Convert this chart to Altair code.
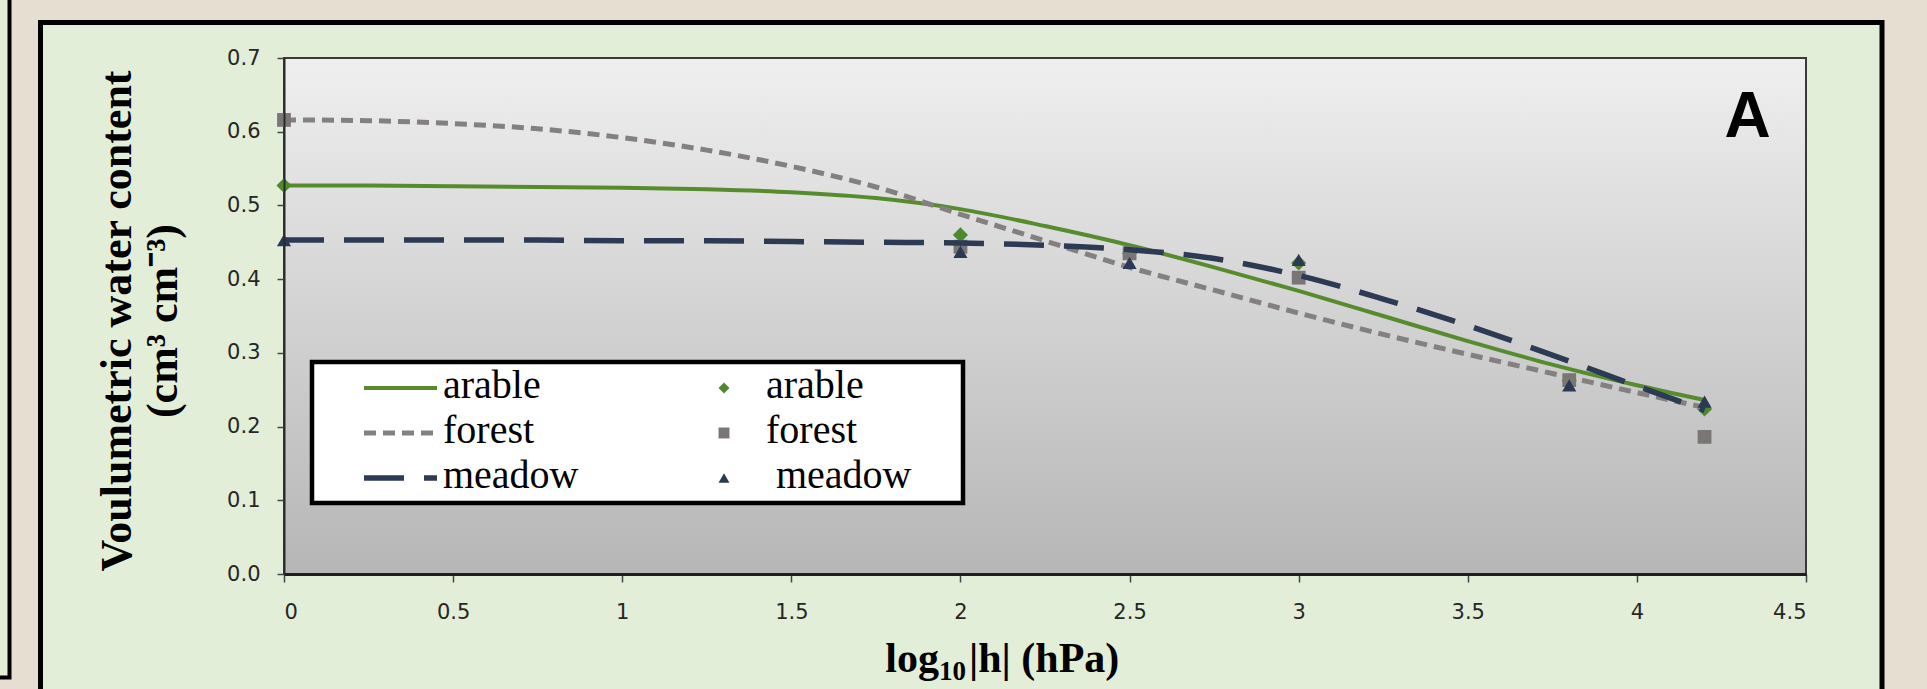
import altair as alt
import pandas as pd

# ---------------- data ----------------
series = ["arable", "forest", "meadow"]

x_fit = [0, 0.25, 0.5, 0.75, 1.0, 1.25, 1.5, 1.75, 2.0, 2.25, 2.5, 2.75, 3.0, 3.25, 3.5, 3.75, 4.0, 4.2]
arable_fit = [0.527, 0.527, 0.526, 0.525, 0.524, 0.522, 0.518, 0.510, 0.495, 0.472, 0.446, 0.416, 0.384, 0.350, 0.316, 0.284, 0.256, 0.236]
forest_fit = [0.616, 0.615, 0.611, 0.604, 0.592, 0.575, 0.553, 0.525, 0.488, 0.452, 0.416, 0.385, 0.354, 0.325, 0.298, 0.272, 0.246, 0.226]
meadow_fit = [0.453, 0.453, 0.453, 0.453, 0.452, 0.452, 0.451, 0.450, 0.449, 0.446, 0.440, 0.428, 0.405, 0.373, 0.337, 0.297, 0.255, 0.222]

x_obs = [0, 2, 2.5, 3, 3.8, 4.2]
arable_obs = [0.527, 0.460, 0.435, 0.422, 0.262, 0.224]
forest_obs = [0.616, 0.444, 0.435, 0.402, 0.263, 0.186]
meadow_obs = [0.453, 0.437, 0.422, 0.426, 0.256, 0.234]

x_ticks = [0, 0.5, 1, 1.5, 2, 2.5, 3, 3.5, 4, 4.5]
y_ticks = [0.0, 0.1, 0.2, 0.3, 0.4, 0.5, 0.6, 0.7]

y_title_1 = "Voulumetric water content"
y_title_2 = "(cm³ cm⁻³)"
panel_label = "A"

fit_values = {"arable": arable_fit, "forest": forest_fit, "meadow": meadow_fit}
obs_values = {"arable": arable_obs, "forest": forest_obs, "meadow": meadow_obs}

# ---------------- styles ----------------
W, H = 1522, 516
OX, OY = 284, 58
BEIGE = "#e6dfd1"
GREEN_BG = "#e2eed8"

line_style = {
    "arable": dict(color="#568c2e", strokeWidth=4),
    "forest": dict(color="#858080", strokeWidth=5, strokeDash=[12, 7]),
    "meadow": dict(color="#2c3a54", strokeWidth=5.5, strokeDash=[40, 20]),
}
marker_style = {
    "arable": dict(shape="diamond", color="#4e8a2c", size=230),
    "forest": dict(shape="square", color="#7a7676", size=190),
    "meadow": dict(shape="triangle-up", color="#2a3954", size=200),
}

one = alt.Data(values=[{"a": 1}])

x_scale = alt.Scale(domain=[0, 4.5], nice=False, zero=False)
y_scale = alt.Scale(domain=[0, 0.7], nice=False, zero=False)
x_axis = alt.Axis(values=x_ticks, format="~g", title="", grid=False, zindex=1,
                  labelFont="DejaVu Sans", labelFontSize=21, labelColor="#262626",
                  labelPadding=19, tickSize=8, tickColor="#444444", tickWidth=1.5,
                  domainColor="#1e1e1e", domainWidth=3)
y_axis = alt.Axis(values=y_ticks, format=".1f", title="", grid=False, zindex=1,
                  labelFont="DejaVu Sans", labelFontSize=21, labelColor="#262626",
                  labelPadding=17, tickSize=7, tickColor="#444444", tickWidth=1.5,
                  domainColor="#2a2a2a", domainWidth=2)


def box(x1, x2, y1, y2, **kw):
    return alt.Chart(one).mark_rect(**kw).encode(
        x=alt.value(x1), x2=alt.value(x2), y=alt.value(y1), y2=alt.value(y2))


def label(txt, x, y, **kw):
    return alt.Chart(one).mark_text(text=txt, **kw).encode(x=alt.value(x), y=alt.value(y))


layers = []
# neighbouring panel at far left and main green panel
layers.append(box(-400, 9.5 - OX, -100, 677.5 - OY, fill=GREEN_BG, stroke="black", strokeWidth=4))
layers.append(box(40.5 - OX, 1882 - OX, 22.5 - OY, 800, fill=GREEN_BG, stroke="black", strokeWidth=5))

# plot area with vertical gradient
grad = alt.LinearGradient(gradient="linear",
                          stops=[alt.GradientStop(color="#efefef", offset=0),
                                 alt.GradientStop(color="#b6b6b6", offset=1)],
                          x1=0, x2=0, y1=0, y2=1)
layers.append(box(0, W, 0, H, fill=grad, stroke="#3a3a3a", strokeWidth=2))

# data series
for s in series:
    df_fit = pd.DataFrame({"x": x_fit, "y": fit_values[s]})
    df_obs = pd.DataFrame({"x": x_obs, "y": obs_values[s]})
    layers.append(
        alt.Chart(df_fit).mark_line(interpolate="monotone", **line_style[s]).encode(
            x=alt.X("x:Q", scale=x_scale, axis=x_axis),
            y=alt.Y("y:Q", scale=y_scale, axis=y_axis))
    )
    layers.append(
        alt.Chart(df_obs).mark_point(filled=True, opacity=1, strokeWidth=0, **marker_style[s]).encode(
            x=alt.X("x:Q", scale=x_scale, axis=x_axis),
            y=alt.Y("y:Q", scale=y_scale, axis=y_axis))
    )

# legend box
layers.append(box(28, 679, 304, 445, fill="white", stroke="black", strokeWidth=4.5))
for i, s in enumerate(series):
    ry = 330 + 45 * i
    layers.append(alt.Chart(one).mark_rule(**line_style[s]).encode(
        x=alt.value(80), x2=alt.value(153), y=alt.value(ry)))
    layers.append(label(s, 159, ry + 10, align="left", baseline="alphabetic",
                        font="Liberation Serif", fontSize=40, color="black"))
    ms = dict(marker_style[s])
    ms["size"] = 120
    layers.append(alt.Chart(one).mark_point(filled=True, opacity=1, strokeWidth=0, **ms).encode(
        x=alt.value(440), y=alt.value(ry)))
    layers.append(label(s, 492 if s == "meadow" else 482, ry + 10, align="left", baseline="alphabetic",
                        font="Liberation Serif", fontSize=40, color="black"))

# panel letter
layers.append(label(panel_label, 1747.5 - OX, 137 - OY, align="center", baseline="alphabetic",
                    font="Liberation Sans", fontWeight="bold", fontSize=64, color="black"))

# y-axis title (two lines, rotated)
layers.append(label(y_title_1, 118 - OX, 321 - OY, angle=270, align="center", baseline="middle",
                    font="Liberation Serif", fontWeight="bold", fontSize=44, color="black"))
layers.append(label(y_title_2, 164 - OX, 321 - OY, angle=270, align="center", baseline="middle",
                    font="Liberation Serif", fontWeight="bold", fontSize=44, color="black"))

# x-axis title: log10|h| (hPa) with subscript
layers.append(label("log", 939 - OX, 672 - OY, align="right", baseline="alphabetic",
                    font="Liberation Serif", fontWeight="bold", fontSize=42, color="black"))
layers.append(label("10", 939 - OX, 680 - OY, align="left", baseline="alphabetic",
                    font="Liberation Serif", fontWeight="bold", fontSize=27, color="black"))
layers.append(label("|h| (hPa)", 969 - OX, 672 - OY, align="left", baseline="alphabetic",
                    font="Liberation Serif", fontWeight="bold", fontSize=42, color="black"))

chart = alt.layer(*layers).properties(
    width=W, height=H,
    autosize=alt.AutoSizeParams(type="none"),
    padding={"left": OX, "top": OY, "right": 1927 - OX - W, "bottom": 689 - OY - H},
).configure(background=BEIGE).configure_view(strokeWidth=0)

chart.save("out.html", embed_options={"renderer": "svg", "actions": False})
